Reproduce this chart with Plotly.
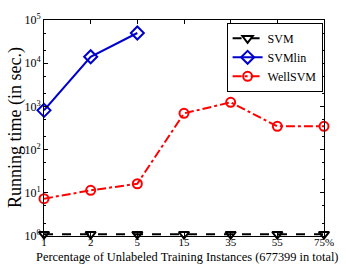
import plotly.graph_objects as go

categories = ["1", "2", "5", "15", "35", "55", "75%"]
svm = [1.1, 1.1, 1.1, 1.1, 1.1, 1.1, 1.1]
svmlin_x = ["1", "2", "5"]
svmlin = [810, 14100, 50000]
wellsvm = [7.3, 11.4, 16.2, 690, 1240, 345, 345]
ytickvals = [1, 10, 100, 1000, 10000, 100000]
yticktext = ["10<sup>0</sup>", "10<sup>1</sup>", "10<sup>2</sup>", "10<sup>3</sup>", "10<sup>4</sup>", "10<sup>5</sup>"]

FONT = "Liberation Serif"
fig = go.Figure()
fig.add_trace(go.Scatter(x=categories, y=svm, name="SVM", mode="lines+markers",
                         line=dict(color="black", width=2, dash="dash"),
                         marker=dict(symbol="triangle-down-open", size=9, color="black", line=dict(width=2)),
                         cliponaxis=False))
fig.add_trace(go.Scatter(x=svmlin_x, y=svmlin, name="SVMlin", mode="lines+markers",
                         line=dict(color="#0000cc", width=2),
                         marker=dict(symbol="diamond-open", size=10, color="#0000cc", line=dict(width=2)),
                         cliponaxis=False))
fig.add_trace(go.Scatter(x=categories, y=wellsvm, name="WellSVM", mode="lines+markers",
                         line=dict(color="red", width=2, dash="dashdot"),
                         marker=dict(symbol="circle-open", size=9, color="red", line=dict(width=2)),
                         cliponaxis=False))

fig.update_layout(
    width=346, height=267,
    margin=dict(l=44, r=17, t=13, b=31),
    paper_bgcolor="white", plot_bgcolor="white",
    font=dict(family=FONT, color="black", size=12),
    showlegend=True,
    legend=dict(x=0.995, y=0.987, xanchor="right", yanchor="top",
                bordercolor="black", borderwidth=1, bgcolor="white",
                font=dict(family=FONT, size=12), tracegroupgap=0,
                itemwidth=30),
    xaxis=dict(type="category", categoryorder="array", categoryarray=categories,
               range=[0, 6], showgrid=False, zeroline=False,
               showline=True, linecolor="black", linewidth=1, mirror="ticks",
               ticks="inside", ticklen=4, tickcolor="black",
               ticklabelstandoff=-4,
               tickfont=dict(family=FONT, size=11)),
    yaxis=dict(type="log", range=[0, 5], showgrid=False, zeroline=False,
               showline=True, linecolor="black", linewidth=1, mirror="ticks",
               ticks="inside", ticklen=4, tickcolor="black",
               tickvals=ytickvals, ticktext=yticktext,
               tickfont=dict(family=FONT, size=12),
               minor=dict(ticks="inside", ticklen=2, tickcolor="black", showgrid=False)),
    annotations=[
        dict(text="Percentage of Unlabeled Training Instances (677399 in total)",
             xref="paper", yref="paper", x=0.509, y=0, yshift=-21,
             xanchor="center", yanchor="middle", showarrow=False, borderpad=0,
             font=dict(family=FONT, size=12.4)),
        dict(text="Running time (in sec.)", xref="paper", yref="paper",
             x=0, y=0.5, xshift=-29, xanchor="center", yanchor="middle",
             textangle=-90, showarrow=False, font=dict(family=FONT, size=18)),
    ],
)
fig.write_html("out.html", config={"displayModeBar": False},
               post_script="document.body.style.margin='0';")
